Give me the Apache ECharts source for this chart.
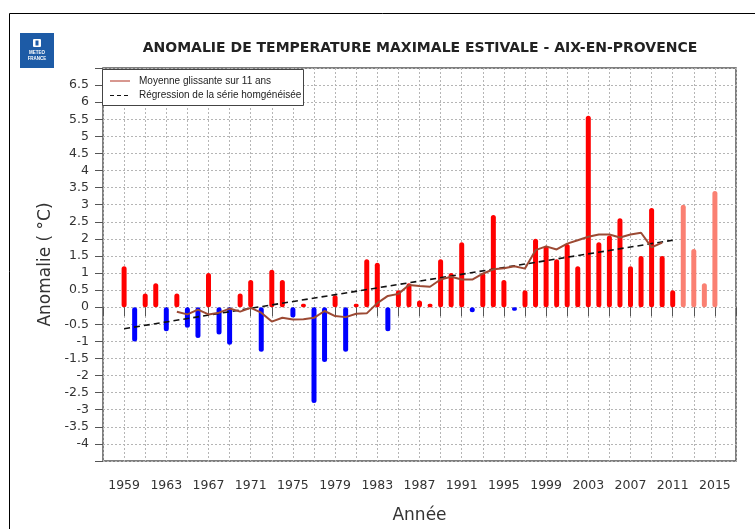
<!DOCTYPE html>
<html>
<head>
<meta charset="utf-8">
<script src="https://cdn.jsdelivr.net/npm/echarts@6/dist/echarts.min.js"></script>
<style>
html,body{margin:0;padding:0;background:#fff;}
#chart{width:755px;height:529px;}
</style>
</head>
<body>
<div id="chart"></div>
<script>
// ---- data ----
const titleText = 'ANOMALIE DE TEMPERATURE MAXIMALE ESTIVALE - AIX-EN-PROVENCE';
const years = [1959,1960,1961,1962,1963,1964,1965,1966,1967,1968,1969,1970,1971,1972,1973,1974,1975,1976,1977,1978,1979,1980,1981,1982,1983,1984,1985,1986,1987,1988,1989,1990,1991,1992,1993,1994,1995,1996,1997,1998,1999,2000,2001,2002,2003,2004,2005,2006,2007,2008,2009,2010,2011,2012,2013,2014,2015];
const anomalies = [1.2,-1.0,0.4,0.7,-0.7,0.4,-0.6,-0.9,1.0,-0.8,-1.1,0.4,0.8,-1.3,1.1,0.8,-0.3,0.1,-2.8,-1.6,0.35,-1.3,0.1,1.4,1.3,-0.7,0.5,0.7,0.2,0.1,1.4,1.0,1.9,-0.15,1.0,2.7,0.8,-0.1,0.5,2.0,1.8,1.4,1.85,1.2,5.6,1.9,2.1,2.6,1.2,1.5,2.9,1.5,0.5,3.0,1.7,0.7,3.4];
const provisionalFrom = 2012;
const maYears = [1964,1965,1966,1967,1968,1969,1970,1971,1972,1973,1974,1975,1976,1977,1978,1979,1980,1981,1982,1983,1984,1985,1986,1987,1988,1989,1990,1991,1992,1993,1994,1995,1996,1997,1998,1999,2000,2001,2002,2003,2004,2005,2006,2007,2008,2009,2010];
const maValues = [-0.13,-0.21,-0.07,-0.21,-0.16,-0.04,-0.13,-0.02,-0.16,-0.42,-0.31,-0.36,-0.35,-0.31,-0.11,-0.26,-0.29,-0.19,-0.18,0.12,0.33,0.39,0.65,0.62,0.6,0.81,0.89,0.81,0.81,0.98,1.11,1.14,1.2,1.13,1.67,1.78,1.69,1.86,1.96,2.06,2.13,2.13,2.04,2.13,2.18,1.75,1.89];
const regYears = [1959, 2011];
const regValues = [-0.63, 1.96];
const xStart = 1957, xEnd = 2017, xStep = 2;
const xLabelFirst = 1959, xLabelLast = 2015, xLabelStep = 4;
const yMin = -4.5, yMax = 7, yStep = 0.5;
const maName = 'Moyenne glissante sur 11 ans';
const regName = 'Régression de la série homgénéisée';

// ---- build ----
const toX = y => y - xStart;
const barData = years.map((y, i) => [toX(y), anomalies[i]]);
const maData = maYears.map((y, i) => [toX(y), maValues[i]]);
const regData = regYears.map((y, i) => [toX(y), regValues[i]]);

const MA_COLOR = '#9C4A34';
const chart = echarts.init(document.getElementById('chart'), null, {renderer: 'canvas'});
const gridLeft = 103, gridTop = 68, gridW = 633, gridH = 398;

chart.setOption({
  animation: false,
  backgroundColor: '#fff',
  title: {
    text: titleText,
    left: 415, top: 36, textAlign: 'center',
    textStyle: {fontFamily: 'DejaVu Sans', fontWeight: 'bold', fontSize: 14, color: '#222'}
  },
  grid: {
    left: gridLeft, top: gridTop, width: gridW, height: gridH,
    show: true, borderColor: '#555', borderWidth: 1.5, containLabel: false
  },
  xAxis: {
    type: 'value', min: 0, max: xEnd - xStart, interval: xStep,
    name: 'Année', nameLocation: 'middle', nameGap: 46,
    nameTextStyle: {fontFamily: 'DejaVu Sans', fontSize: 17, color: '#333'},
    axisLine: {show: false},
    axisTick: {show: true, length: 9, lineStyle: {color: '#555'}},
    axisLabel: {
      margin: 18, fontFamily: 'DejaVu Sans', fontSize: 12.5, color: '#333',
      showMinLabel: true, showMaxLabel: true,
      formatter: v => {
        const y = Math.round(v + xStart);
        return (y >= xLabelFirst && y <= xLabelLast && (y - xLabelFirst) % xLabelStep === 0) ? String(y) : '';
      }
    },
    splitLine: {show: true, lineStyle: {color: '#b5b5b5', type: [2, 2], width: 1}}
  },
  yAxis: {
    type: 'value', min: yMin, max: yMax, interval: yStep,
    name: 'Anomalie ( °C)', nameLocation: 'middle', nameGap: 47, nameRotate: 90,
    nameTextStyle: {fontFamily: 'DejaVu Sans', fontSize: 17, color: '#333'},
    axisLine: {show: false},
    axisTick: {show: true, length: 8, lineStyle: {color: '#555'}},
    axisLabel: {
      margin: 14, fontFamily: 'DejaVu Sans', fontSize: 12.5, color: '#333',
      formatter: v => (v <= yMin + 1e-9 || v >= yMax - 1e-9) ? '' : String(v)
    },
    splitLine: {show: true, lineStyle: {color: '#b5b5b5', type: [2, 2], width: 1}}
  },
  series: [
    {
      type: 'bar', name: 'Anomalie', data: barData, barWidth: 5,
      itemStyle: {
        borderRadius: 2.5,
        color: p => {
          const yr = p.value[0] + xStart;
          if (yr >= provisionalFrom) return '#FA8072';
          return p.value[1] >= 0 ? '#FF0000' : '#0000FF';
        }
      },
      z: 2
    },
    {
      type: 'line', name: regName, data: regData, symbol: 'none',
      lineStyle: {color: '#111', width: 1.6, type: [6, 4]}, z: 3
    },
    {
      type: 'line', name: maName, data: maData, symbol: 'none',
      lineStyle: {color: MA_COLOR, width: 2}, itemStyle: {color: MA_COLOR}, z: 4
    }
  ],
  graphic: [
    // outer frame
    {type: 'rect', shape: {x: 9.5, y: 13.5, width: 800, height: 600}, style: {fill: 'none', stroke: '#000', lineWidth: 1}, silent: true, z: -10},
    // logo
    {type: 'rect', shape: {x: 20, y: 33, width: 34, height: 35}, style: {fill: '#1D5BA6'}, silent: true},
    {type: 'rect', shape: {x: 33, y: 39, width: 8, height: 8, r: 1}, style: {fill: '#fff'}, silent: true},
    {type: 'rect', shape: {x: 35.5, y: 40.5, width: 3, height: 5}, style: {fill: '#1D5BA6'}, silent: true},
    {type: 'text', x: 37, y: 50, style: {text: 'METEO', fill: '#fff', font: 'bold 4.5px Liberation Sans', align: 'center'}, silent: true},
    {type: 'text', x: 37, y: 56, style: {text: 'FRANCE', fill: '#fff', font: 'bold 4.5px Liberation Sans', align: 'center'}, silent: true},
    // legend box
    {type: 'rect', z: 50, shape: {x: 102.5, y: 69.5, width: 201, height: 36}, style: {fill: '#fff', stroke: '#444', lineWidth: 1}, silent: true},
    {type: 'line', z: 51, shape: {x1: 110, y1: 81, x2: 130, y2: 81}, style: {stroke: '#B03020', lineWidth: 1}, silent: true},
    {type: 'text', z: 51, x: 139, y: 81, style: {text: maName, fill: '#222', font: '10px Liberation Sans', verticalAlign: 'middle'}, silent: true},
    {type: 'line', z: 51, shape: {x1: 110, y1: 95.5, x2: 130, y2: 95.5}, style: {stroke: '#111', lineWidth: 1.2, lineDash: [4, 3]}, silent: true},
    {type: 'text', z: 51, x: 139, y: 95.5, style: {text: regName, fill: '#222', font: '10px Liberation Sans', verticalAlign: 'middle'}, silent: true}
  ]
});
</script>
</body>
</html>
